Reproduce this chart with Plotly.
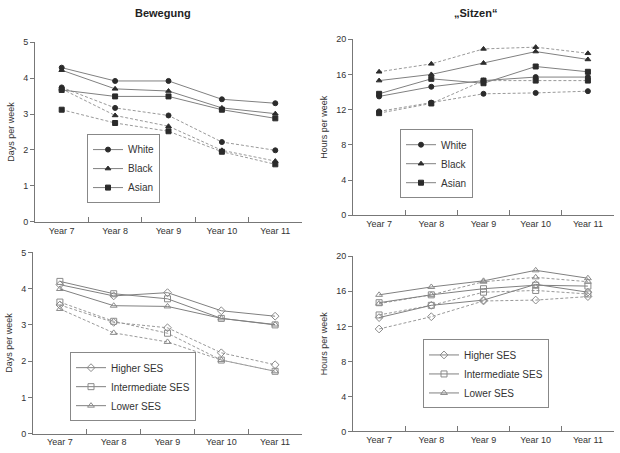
import plotly.graph_objects as go

years = ["Year 7", "Year 8", "Year 9", "Year 10", "Year 11"]

# Bewegung (days per week) by ethnicity: solid and dashed groups
eth_names = ["White", "Black", "Asian"]
days_eth_solid = {
    "White": [4.29, 3.92, 3.92, 3.41, 3.30],
    "Black": [4.22, 3.70, 3.64, 3.17, 3.01],
    "Asian": [3.67, 3.49, 3.49, 3.12, 2.88],
}
days_eth_dashed = {
    "White": [3.74, 3.17, 2.96, 2.22, 1.99],
    "Black": [3.70, 2.96, 2.66, 1.99, 1.69],
    "Asian": [3.12, 2.75, 2.52, 1.95, 1.60],
}
# Sitzen (hours per week) by ethnicity
hours_eth_solid = {
    "White": [13.5, 14.6, 15.3, 15.7, 15.7],
    "Black": [15.3, 16.0, 17.3, 18.6, 17.7],
    "Asian": [13.8, 15.5, 15.0, 16.9, 16.3],
}
hours_eth_dashed = {
    "White": [11.8, 12.8, 13.8, 13.9, 14.1],
    "Black": [16.3, 17.2, 18.9, 19.1, 18.4],
    "Asian": [11.6, 12.7, 15.3, 15.3, 15.3],
}
# Bewegung by SES
ses_names = ["Higher SES", "Intermediate SES", "Lower SES"]
days_ses_solid = {
    "Higher SES": [4.11, 3.80, 3.89, 3.39, 3.24],
    "Intermediate SES": [4.20, 3.86, 3.72, 3.18, 3.00],
    "Lower SES": [3.99, 3.53, 3.51, 3.18, 3.01],
}
days_ses_dashed = {
    "Higher SES": [3.55, 3.07, 2.92, 2.23, 1.90],
    "Intermediate SES": [3.63, 3.10, 2.77, 2.03, 1.72],
    "Lower SES": [3.44, 2.78, 2.53, 2.03, 1.72],
}
# Sitzen by SES
hours_ses_solid = {
    "Higher SES": [13.0, 14.4, 15.0, 16.8, 15.9],
    "Intermediate SES": [14.7, 15.6, 16.3, 16.7, 16.6],
    "Lower SES": [15.6, 16.5, 17.2, 18.4, 17.5],
}
hours_ses_dashed = {
    "Higher SES": [11.7, 13.1, 14.9, 15.0, 15.4],
    "Intermediate SES": [13.3, 14.4, 15.9, 16.1, 15.7],
    "Lower SES": [14.6, 15.6, 17.1, 17.6, 17.1],
}

eth_symbols = {"White": "circle", "Black": "triangle-up", "Asian": "square"}
ses_symbols = {"Higher SES": "diamond-open", "Intermediate SES": "square-open", "Lower SES": "triangle-up-open"}

LINE = "#808080"
DASH = "#999999"
MARK = "#2b2b2b"
OPEN = "#8a8a8a"

fig = go.Figure()

def add_panel(solid, dashed, names, symbols, xa, ya, legend, filled):
    mcol = MARK if filled else OPEN
    msize = 5 if filled else 6
    for n in names:
        fig.add_trace(go.Scatter(
            x=years, y=dashed[n], mode="lines+markers", name=n, showlegend=False,
            xaxis=xa, yaxis=ya,
            line=dict(color=DASH, width=1, dash="3px,2px"),
            marker=dict(symbol=symbols[n], size=msize, color=mcol,
                        line=dict(color=mcol, width=1)),
        ))
    for n in names:
        fig.add_trace(go.Scatter(
            x=years, y=solid[n], mode="lines+markers", name=n, legend=legend,
            xaxis=xa, yaxis=ya,
            line=dict(color=LINE, width=1),
            marker=dict(symbol=symbols[n], size=msize, color=mcol,
                        line=dict(color=mcol, width=1)),
        ))

add_panel(days_eth_solid, days_eth_dashed, eth_names, eth_symbols, "x", "y", "legend", True)
add_panel(hours_eth_solid, hours_eth_dashed, eth_names, eth_symbols, "x2", "y2", "legend2", True)
add_panel(days_ses_solid, days_ses_dashed, ses_names, ses_symbols, "x3", "y3", "legend3", False)
add_panel(hours_ses_solid, hours_ses_dashed, ses_names, ses_symbols, "x4", "y4", "legend4", False)

W, H = 620, 453
def px_x(a, b):
    return [a / W, b / W]
def px_y(top, bottom):
    return [1 - bottom / H, 1 - top / H]

FONT = "Liberation Sans, Arial, sans-serif"
tickfont = dict(family=FONT, size=9, color="#333")
axcol = "#777"

def xaxis(dom, anchor):
    return dict(domain=dom, anchor=anchor, type="category", categoryorder="array",
                categoryarray=years, range=[-0.5, 4.5], tickson="boundaries",
                ticks="inside", ticklen=5, tickcolor=axcol, showline=True, linecolor=axcol,
                linewidth=1, showgrid=False, zeroline=False, tickfont=tickfont, fixedrange=True)

def yaxis(dom, anchor, rng, dtick, title):
    return dict(domain=dom, anchor=anchor, range=rng, dtick=dtick, ticks="outside", ticklen=4,
                tickcolor=axcol, showline=True, linecolor=axcol, linewidth=1, showgrid=False,
                zeroline=False, tickfont=tickfont, fixedrange=True,
                title=dict(text=title, font=dict(family=FONT, size=9, color="#333"), standoff=7))

legfont = dict(family=FONT, size=10, color="#333")
def legend(x, y):
    return dict(x=x / W, y=1 - y / H, xanchor="left", yanchor="top", bgcolor="white",
                bordercolor="#888", borderwidth=1, font=legfont, tracegroupgap=0,
                itemwidth=30, traceorder="normal")

fig.update_layout(
    width=W, height=H, margin=dict(l=0, r=0, t=0, b=0),
    paper_bgcolor="white", plot_bgcolor="white",
    xaxis=xaxis(px_x(35, 302), "y"),
    yaxis=yaxis(px_y(38, 221.7), "x", [0, 5], 1, "Days per week"),
    xaxis2=xaxis(px_x(353, 614), "y2"),
    yaxis2=yaxis(px_y(35, 215), "x2", [0, 20], 4, "Hours per week"),
    xaxis3=xaxis(px_x(33, 302), "y3"),
    yaxis3=yaxis(px_y(253, 438.3), "x3", [0, 5], 1, "Days per week"),
    xaxis4=xaxis(px_x(353, 614), "y4"),
    yaxis4=yaxis(px_y(257, 436), "x4", [0, 20], 4, "Hours per week"),
    legend=legend(87, 132),
    legend2=legend(400, 127),
    legend3=legend(70, 355),
    legend4=legend(423, 342),
    annotations=[
        dict(text="<b>Bewegung</b>", x=163 / W, y=1 - 8 / H, xref="paper", yref="paper",
             xanchor="center", yanchor="middle", showarrow=False,
             font=dict(family=FONT, size=11, color="#222")),
        dict(text="<b>„Sitzen“</b>", x=475 / W, y=1 - 8 / H, xref="paper", yref="paper",
             xanchor="center", yanchor="middle", showarrow=False,
             font=dict(family=FONT, size=11, color="#222")),
    ],
)

fig.write_html("out.html", config={"displayModeBar": False},
               post_script="document.body.style.margin='0px';document.body.style.overflow='hidden';")
